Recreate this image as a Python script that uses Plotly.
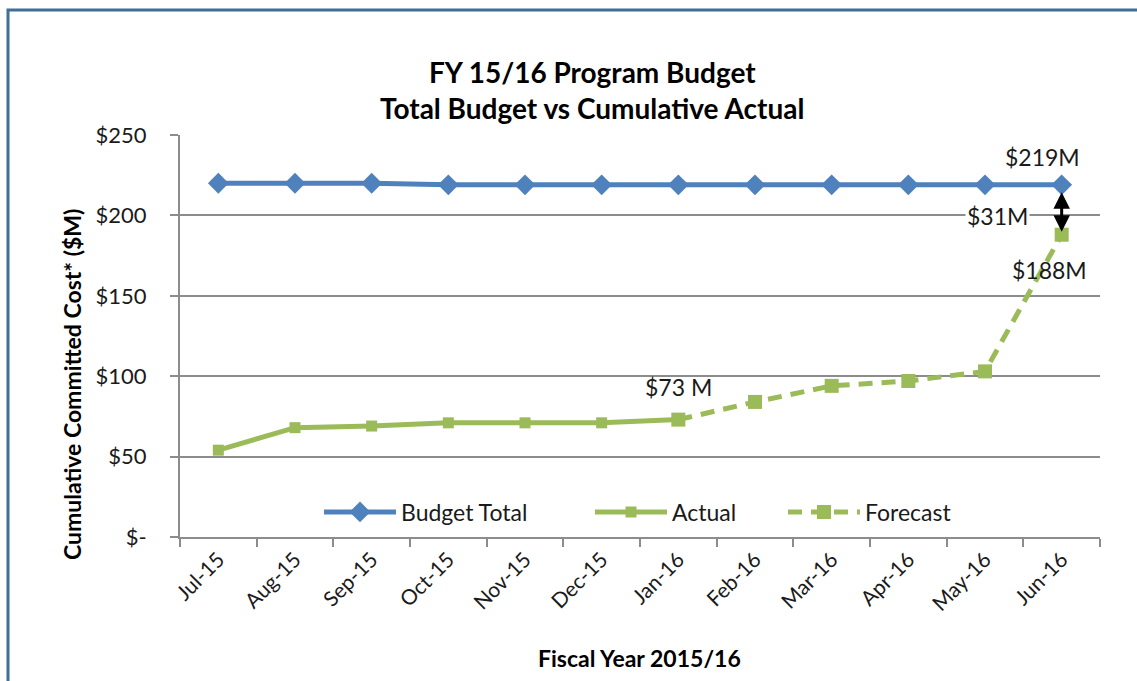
import plotly.graph_objects as go

# Fiscal-year months
months = ["Jul-15", "Aug-15", "Sep-15", "Oct-15", "Nov-15", "Dec-15",
          "Jan-16", "Feb-16", "Mar-16", "Apr-16", "May-16", "Jun-16"]

# Total program budget ($M)
budget_total = [220, 220, 220, 219, 219, 219, 219, 219, 219, 219, 219, 219]

# Cumulative committed cost to date ($M)
actual_months = ["Jul-15", "Aug-15", "Sep-15", "Oct-15", "Nov-15", "Dec-15", "Jan-16"]
actual = [54, 68, 69, 71, 71, 71, 73]

# Forecast of cumulative committed cost ($M)
forecast_months = ["Jan-16", "Feb-16", "Mar-16", "Apr-16", "May-16", "Jun-16"]
forecast = [73, 84, 94, 97, 103, 188]

y_ticks = [0, 50, 100, 150, 200, 250]
y_tick_text = ["$-", "$50", "$100", "$150", "$200", "$250"]

BLUE = "#4f81bd"
GREEN = "#9bbb59"
FONT = "Lato, 'Open Sans', sans-serif"
TXT = "#1a1a1a"

# plot area in pixels: x 180..1100, y 135..537
L, R, T, B = 180, 1100, 135, 537
W, H = R - L, B - T


def px(xp):
    return (xp - L) / W


def py(yp):
    return (B - yp) / H


fig = go.Figure()

fig.add_trace(go.Scatter(
    x=months, y=budget_total, name="Budget Total", mode="lines+markers",
    line=dict(color=BLUE, width=5),
    marker=dict(symbol="diamond", size=16, color=BLUE),
    legend="legend",
))
fig.add_trace(go.Scatter(
    x=actual_months, y=actual, name="Actual", mode="lines+markers",
    line=dict(color=GREEN, width=5),
    marker=dict(symbol="square", size=11, color=GREEN),
    legend="legend2",
))
fig.add_trace(go.Scatter(
    x=forecast_months, y=forecast, name="Forecast", mode="lines+markers",
    line=dict(color=GREEN, width=5, dash="14px,9px"),
    marker=dict(symbol="square", size=14, color=GREEN),
    legend="legend3",
))

label_font = dict(family=FONT, size=23, color=TXT)
axis_title_font = dict(family=FONT, size=23, color="#000")

annotations = [
    # chart titles
    dict(text="<b>FY 15/16 Program Budget</b>", x=px(592), y=py(72)),
    dict(text="<b>Total Budget vs Cumulative Actual</b>", x=px(592), y=py(108)),
]
for a in annotations:
    a.update(xref="paper", yref="paper", showarrow=False, xanchor="center",
             yanchor="middle", font=dict(family=FONT, size=28, color="#000"))

annotations += [
    # axis titles
    dict(text="<b>Cumulative Committed Cost* ($M)</b>", x=px(72), y=py(385),
         xref="paper", yref="paper", showarrow=False, textangle=-90,
         xanchor="center", yanchor="middle", font=axis_title_font),
    dict(text="<b>Fiscal Year 2015/16</b>", x=px(639), y=py(658),
         xref="paper", yref="paper", showarrow=False,
         xanchor="center", yanchor="middle", font=axis_title_font),
    # gap between budget and forecast
    dict(x="Jun-16", y=forecast[-1], ax="Jun-16", ay=budget_total[-1],
         xref="x", yref="y", axref="x", ayref="y", text="", showarrow=True,
         arrowside="end+start", arrowhead=2, arrowsize=1.1, arrowwidth=3,
         arrowcolor="#000", standoff=3, startstandoff=6),
    # value labels
    dict(text="$219M", x="Jun-16", y=budget_total[-1], xshift=-19, yshift=28),
    dict(text="$31M", x="Jun-16", y=(budget_total[-1] + forecast[-1]) / 2,
         xshift=-64, yshift=-6, bgcolor="white"),
    dict(text="$188M", x="Jun-16", y=forecast[-1], xshift=-12, yshift=-35),
    dict(text="$73 M", x="Jan-16", y=actual[-1], xshift=0, yshift=33),
]
for a in annotations[-4:]:
    a.update(xref="x", yref="y", showarrow=False, font=label_font)

legend_common = dict(orientation="h", yanchor="middle", xanchor="left",
                     bgcolor="rgba(0,0,0,0)", font=label_font, itemwidth=72)

fig.update_layout(
    width=1137, height=681,
    margin=dict(l=L, r=1137 - R, t=T, b=681 - B),
    paper_bgcolor="white", plot_bgcolor="white",
    font=dict(family=FONT, size=20, color=TXT),
    showlegend=True,
    legend=dict(x=px(325 - 6), y=py(512), **legend_common),
    legend2=dict(x=px(596 - 6), y=py(512), **legend_common),
    legend3=dict(x=px(789 - 6), y=py(512), **legend_common),
    annotations=annotations,
    shapes=[dict(type="rect", xref="paper", yref="paper",
                 x0=px(8), x1=px(1160), y0=py(700), y1=py(10),
                 line=dict(color="#3f6e96", width=3), layer="below")],
)

fig.update_xaxes(
    type="category", categoryorder="array", categoryarray=months,
    range=[-0.5, 11.5], tickangle=-45,
    showline=True, linecolor="#8c8c8c", linewidth=2,
    ticks="outside", ticklen=8, tickcolor="#8c8c8c", tickwidth=2,
    tickson="boundaries", showgrid=False,
    tickfont=dict(family=FONT, size=21, color=TXT),
)
fig.update_yaxes(
    range=[0, 250], tickvals=y_ticks, ticktext=y_tick_text,
    showline=True, linecolor="#8c8c8c", linewidth=2,
    ticks="outside", ticklen=8, tickcolor="#8c8c8c", tickwidth=2,
    showgrid=True, gridcolor="#8c8c8c", gridwidth=2, zeroline=False,
    ticklabelstandoff=19,
    tickfont=dict(family=FONT, size=22, color=TXT),
)

fig.write_html("out.html")
